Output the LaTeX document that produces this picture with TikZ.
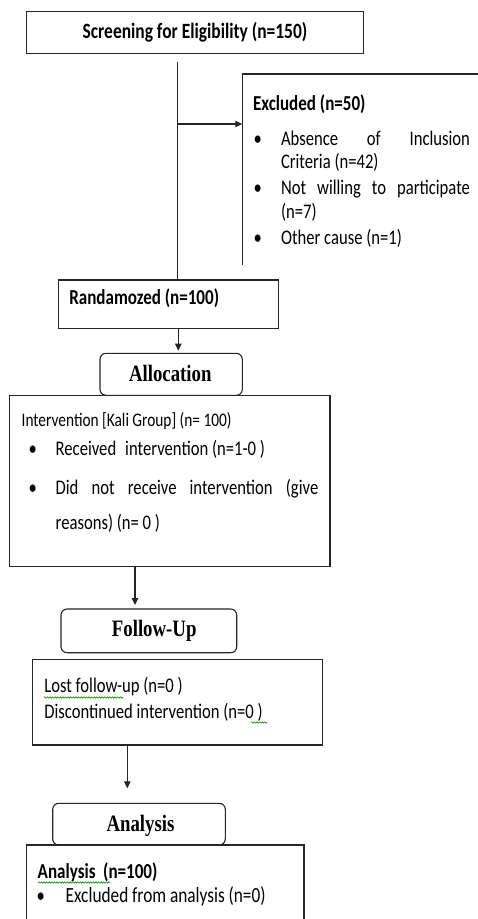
\documentclass[tikz,border=0pt]{standalone}
\usepackage{fontspec}
\setmainfont{Carlito}[FakeStretch=0.8]
\newfontfamily\headfont{Liberation Serif}[FakeStretch=0.8]
\usetikzlibrary{arrows.meta,decorations.pathmorphing}
\begin{document}
\begin{tikzpicture}[x=1pt,y=-1pt,
  box/.style={draw=black!85, line width=1.1pt, inner sep=0, outer sep=0},
  rbox/.style={box, rounded corners=6pt},
  txt/.style={anchor=base west, inner sep=0, outer sep=0, font=\fontsize{20.8}{24}\selectfont},
  btxt/.style={anchor=base west, inner sep=0, outer sep=0, font=\fontsize{21.3}{24}\selectfont\bfseries},
  head/.style={anchor=base, inner sep=0, outer sep=0, font=\headfont\bfseries\fontsize{23.5}{28}\selectfont},
  conn/.style={draw=black!85, line width=1.1pt},
  arr/.style={conn, -{Triangle[length=7pt,width=6.5pt]}},
  wavy/.style={draw=green!55!black, line width=0.6pt, decorate, decoration={snake, amplitude=0.7pt, segment length=2.6pt}}
]
\useasboundingbox (0,0) rectangle (478,919);
\clip (0,0) rectangle (478,919);

% Screening
\node[box, minimum width=336.3pt, minimum height=42.3pt, font=\fontsize{21.8}{24}\selectfont\bfseries] (scr) at (195,32.2) {Screening for Eligibility (n=150)};

% Excluded (open box)
\draw[conn] (478,74) -- (242.3,74) -- (242.3,265);
\coordinate (exl) at (242.3,124);
\node[btxt] (ex1) at (253,110) {Excluded (n=50)};
\node[txt] (xb1) at (253.5,145.6) {•};
\node[txt] (ex2) at (281,145.6) {\makebox[189pt][s]{Absence of Inclusion}};
\node[txt] (ex3) at (281,168) {Criteria (n=42)};
\node[txt] (xb2) at (253.5,194) {•};
\node[txt] (ex4) at (281,194) {\makebox[189pt][s]{Not willing to participate}};
\node[txt] (ex5) at (281,218) {(n=7)};
\node[txt] (xb3) at (253.5,244) {•};
\node[txt] (ex6) at (281,244) {Other cause (n=1)};

% Randomized
\node[box, minimum width=220pt, minimum height=48.7pt] (rand) at (168.3,304.35) {};
\node[btxt] (randt) at (69.3,304) {Randamozed (n=100)};

\coordinate (vtop) at (177.7,61.7);
\draw[conn] (vtop) -- (vtop |- rand.north);
\draw[arr] (vtop |- exl) -- (exl);

% Allocation
\node[rbox, minimum width=142.3pt, minimum height=42pt] (alloc) at (171.15,374.3) {};
\node[head] (alloct) at (170.3,381.7) {Allocation};
\node[box, minimum width=320.7pt, minimum height=171.4pt] (interv) at (169.65,481) {};
\node[txt, font=\fontsize{19.2}{24}\selectfont] (iv1) at (21.7,426.7) {Intervention [Kali Group] (n= 100)};
\node[txt] (ib1) at (28.5,455.7) {•};
\node[txt] (iv2) at (55.7,455.7) {Received\hspace{9pt}intervention (n=1-0 )};
\node[txt] (ib2) at (28.5,494) {•};
\node[txt] (iv3) at (55.7,494) {\makebox[262.6pt][s]{Did not receive intervention (give}};
\node[txt] (iv4) at (55.7,529.3) {reasons) (n= 0 )};

\draw[arr, shorten >=2.6pt] ([xshift=10pt]rand.south) -- ([xshift=10pt]rand.south |- alloc.north);

% Follow-Up
\node[rbox, minimum width=175.7pt, minimum height=43.7pt] (fu) at (148.85,630.85) {};
\node[head] (fut) at (154.2,636.7) {Follow-Up};
\node[box, minimum width=290.4pt, minimum height=85.7pt] (fubox) at (177.5,702.15) {};
\node[txt] (fu1) at (44.3,692.7) {Lost follow-up (n=0 )};
\node[txt] (fu2) at (44.3,718.3) {Discontinued intervention (n=0 )};
\draw[wavy] (44,697.5) -- (123,697.5);
\draw[wavy] (251,722.5) -- (267,722.5);

\draw[arr, shorten >=4pt] ([xshift=-34.65pt]interv.south) -- ([xshift=-34.65pt]interv.south |- fu.north);

% Analysis
\node[rbox, minimum width=172.6pt, minimum height=41.7pt] (an) at (139,824.15) {};
\node[head] (ant) at (140.5,831) {Analysis};
\node[box, minimum width=277.3pt, minimum height=100pt] (anbox) at (165.35,895) {};
\node[btxt] (an1) at (37.7,878.3) {Analysis\ \ (n=100)};
\draw[wavy] (38,882.5) -- (110,882.5);
\node[txt] (ab1) at (36.5,902.7) {•};
\node[txt, font=\fontsize{21.6}{24}\selectfont] (an2) at (65.7,902.7) {Excluded from analysis (n=0)};

\draw[arr, shorten >=15pt] ([xshift=-50.2pt]fubox.south) -- ([xshift=-50.2pt]fubox.south |- an.north);
\end{tikzpicture}
\end{document}
